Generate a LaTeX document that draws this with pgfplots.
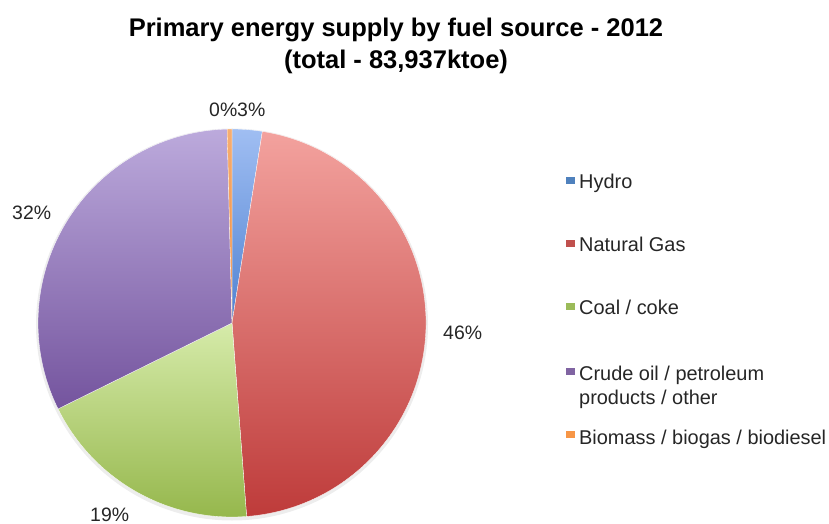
\documentclass[border=0pt]{standalone}
\usepackage{pgfplots}
\pgfplotsset{compat=1.18}
\usepackage{fontspec}
\setmainfont{Liberation Sans}
\definecolor{txt}{HTML}{262626}
\definecolor{hydroT}{HTML}{A0BEF2}\definecolor{hydroB}{HTML}{4F82D2}
\definecolor{gasT}{HTML}{F3A29E}\definecolor{gasB}{HTML}{BE3B3A}
\definecolor{coalT}{HTML}{D6EBAA}\definecolor{coalB}{HTML}{94B64A}
\definecolor{oilT}{HTML}{BCAADC}\definecolor{oilB}{HTML}{74549E}
\definecolor{bioT}{HTML}{F6AE72}\definecolor{bioB}{HTML}{F08A3A}
\definecolor{hydroL}{HTML}{4F81BD}\definecolor{gasL}{HTML}{C0504D}
\definecolor{coalL}{HTML}{9BBB59}\definecolor{oilL}{HTML}{8064A2}
\definecolor{bioL}{HTML}{F79646}
% shares in percent (Hydro, Natural Gas, Coal/coke, Crude oil, Biomass)
\def\vH{2.5}\def\vG{46.3}\def\vC{18.9}\def\vO{31.9}\def\vB{0.4}
\pgfmathsetmacro{\aA}{0}
\pgfmathsetmacro{\aB}{3.6*\vH}
\pgfmathsetmacro{\aC}{3.6*(\vH+\vG)}
\pgfmathsetmacro{\aD}{3.6*(\vH+\vG+\vC)}
\pgfmathsetmacro{\aE}{3.6*(\vH+\vG+\vC+\vO)}
\pgfmathsetmacro{\aF}{3.6*(\vH+\vG+\vC+\vO+\vB)}
\newcommand{\slice}[4]{%
  \shade[top color=#3, bottom color=#4, draw=white, line width=0.3pt]
    (axis cs:232,323) -- ++({90-#1}:194bp)
    arc[start angle={90-#1}, end angle={90-#2}, radius=194bp] -- cycle;}
\begin{document}
\begin{tikzpicture}
\begin{axis}[
  x=1bp, y=1bp, scale only axis,
  xmin=0, xmax=829, ymin=0, ymax=524,
  y dir=reverse, hide axis, clip=false]
\draw[draw=none] (axis cs:0,0) rectangle (axis cs:829,524);
% soft shadow
\fill[black!7] (axis cs:232,324.5) circle[radius=196bp];
\slice{\aA}{\aB}{hydroT}{hydroB}
\slice{\aB}{\aC}{gasT}{gasB}
\slice{\aC}{\aD}{coalT}{coalB}
\slice{\aD}{\aE}{oilT}{oilB}
\slice{\aE}{\aF}{bioT}{bioB}
% title
\node[anchor=base, font=\fontsize{25.6}{30}\selectfont\bfseries, text=black] at (axis cs:396,37) {Primary energy supply by fuel source - 2012};
\node[anchor=base, font=\fontsize{25.6}{30}\selectfont\bfseries, text=black] at (axis cs:396,69) {(total - 83,937ktoe)};
% percentage labels
\begin{scope}[every node/.style={anchor=base west, inner sep=0pt, font=\fontsize{19.5}{23}\selectfont, text=txt}]
\node at (axis cs:209,117) {0\%};
\node at (axis cs:237,117) {3\%};
\node at (axis cs:12,220) {32\%};
\node at (axis cs:443,339) {46\%};
\node at (axis cs:90,521) {19\%};
\end{scope}
% legend
\fill[hydroL] (axis cs:566,177) rectangle (axis cs:575,184);
\fill[gasL] (axis cs:566,240) rectangle (axis cs:575,247);
\fill[coalL] (axis cs:566,303) rectangle (axis cs:575,310);
\fill[oilL] (axis cs:566,368) rectangle (axis cs:575,375);
\fill[bioL] (axis cs:566,431) rectangle (axis cs:575,438);
\begin{scope}[every node/.style={anchor=base west, inner sep=0pt, font=\fontsize{20}{24}\selectfont, text=txt}]
\node at (axis cs:579,189) {Hydro};
\node at (axis cs:579,252) {Natural Gas};
\node at (axis cs:579,315) {Coal / coke};
\node at (axis cs:579,380) {Crude oil / petroleum};
\node at (axis cs:579,404) {products / other};
\node at (axis cs:579,444) {Biomass / biogas / biodiesel};
\end{scope}
\end{axis}
\end{tikzpicture}
\end{document}
